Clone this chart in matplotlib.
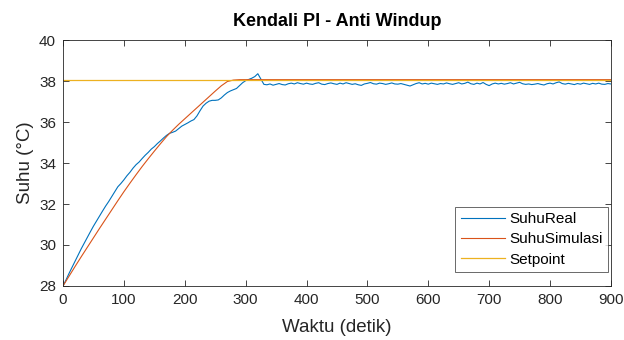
import numpy as np
import matplotlib
matplotlib.use("Agg")
import matplotlib.pyplot as plt

suhu_real = [
    28.00, 28.30, 28.62, 28.92, 29.22, 29.52, 29.82, 30.10, 30.38, 30.65,
    30.92, 31.17, 31.42, 31.66, 31.90, 32.12, 32.36, 32.60, 32.84, 33.00,
    33.18, 33.38, 33.55, 33.75, 33.92, 34.05, 34.22, 34.38, 34.52, 34.68,
    34.80, 34.95, 35.08, 35.22, 35.35, 35.45, 35.50, 35.56, 35.68, 35.80,
    35.88, 35.96, 36.05, 36.12, 36.30, 36.55, 36.78, 36.92, 37.02, 37.06,
    37.06, 37.08, 37.18, 37.32, 37.44, 37.52, 37.58, 37.64, 37.78, 37.92,
    38.02, 38.08, 38.14, 38.22, 38.36, 38.10,
    37.84, 37.82, 37.86, 37.80, 37.84, 37.88, 37.83, 37.81, 37.87, 37.90,
    37.86, 37.92, 37.88, 37.85, 37.90, 37.86, 37.84, 37.89, 37.92, 37.85,
    37.83, 37.88, 37.91, 37.87, 37.84, 37.90, 37.86, 37.92, 37.88, 37.84,
    37.87, 37.82, 37.79, 37.86, 37.89, 37.93, 37.87, 37.85, 37.90, 37.88,
    37.84, 37.87, 37.91, 37.86, 37.85, 37.88, 37.84, 37.80, 37.76, 37.82,
    37.88, 37.92, 37.86, 37.89, 37.85, 37.90, 37.87, 37.84, 37.88, 37.86,
    37.91, 37.87, 37.84, 37.88, 37.92, 37.86, 37.89, 37.95, 37.87, 37.84,
    37.90, 37.86, 37.93, 37.84, 37.78, 37.86, 37.90, 37.86, 37.89, 37.85,
    37.88, 37.92, 37.86, 37.90, 37.94, 37.87, 37.84, 37.86, 37.83, 37.85,
    37.88, 37.84, 37.81, 37.87, 37.90, 37.86, 37.92, 37.96, 37.88, 37.85,
    37.89, 37.86, 37.83, 37.88, 37.85, 37.90, 37.87, 37.84, 37.89, 37.86,
    37.90, 37.85, 37.84, 37.88, 37.86,
]
waktu_real = np.arange(len(suhu_real)) * 5

waktu_sim = list(range(0, 301, 10)) + [900]
suhu_sim = [
    28.00, 28.48, 28.96, 29.43, 29.89, 30.35, 30.81, 31.26, 31.71, 32.16,
    32.60, 33.02, 33.43, 33.83, 34.21, 34.58, 34.94, 35.29, 35.60, 35.89,
    36.16, 36.43, 36.70, 36.97, 37.24, 37.51, 37.77, 37.98, 38.05, 38.07,
    38.07, 38.07,
]

waktu_sp = [0, 900]
setpoint = [38.07, 38.07]

font = "Liberation Sans"
ink = "#262626"

fig = plt.figure(figsize=(6.24, 3.4), dpi=100)
ax = fig.add_axes([0.101, 0.159, 0.878, 0.723])
ax.plot(waktu_real, suhu_real, color="#0072BD", lw=0.8, label="SuhuReal")
ax.plot(waktu_sim, suhu_sim, color="#D95319", lw=0.8, label="SuhuSimulasi")
ax.plot(waktu_sp, setpoint, color="#EDB120", lw=0.9, label="Setpoint")

ax.set_xlim(0, 900)
ax.set_ylim(28, 40)
ax.set_xticks(range(0, 901, 100))
ax.set_yticks(range(28, 41, 2))
ax.tick_params(direction="in", top=True, right=True, labelsize=11,
               colors=ink, length=4, width=0.6, pad=5)
for s in ax.spines.values():
    s.set_color(ink)
    s.set_linewidth(0.6)

for lbl in ax.get_xticklabels() + ax.get_yticklabels():
    lbl.set_family(font)
ax.set_xlabel("Waktu (detik)", family=font, fontsize=13.5, color=ink, labelpad=9)
ax.set_ylabel("Suhu (\u00b0C)", family=font, fontsize=13.5, color=ink, labelpad=4)
ax.set_title("Kendali PI - Anti Windup", family=font, fontsize=13, fontweight="bold", pad=10)

leg = ax.legend(loc="lower right", bbox_to_anchor=(0.995, 0.057),
                prop={"family": font, "size": 11}, fancybox=False,
                edgecolor=ink, handlelength=2.9, handletextpad=0.3,
                borderaxespad=0, labelspacing=0.4, borderpad=0.35)
leg.get_frame().set_linewidth(0.6)

fig.savefig("out.png", dpi=100)
